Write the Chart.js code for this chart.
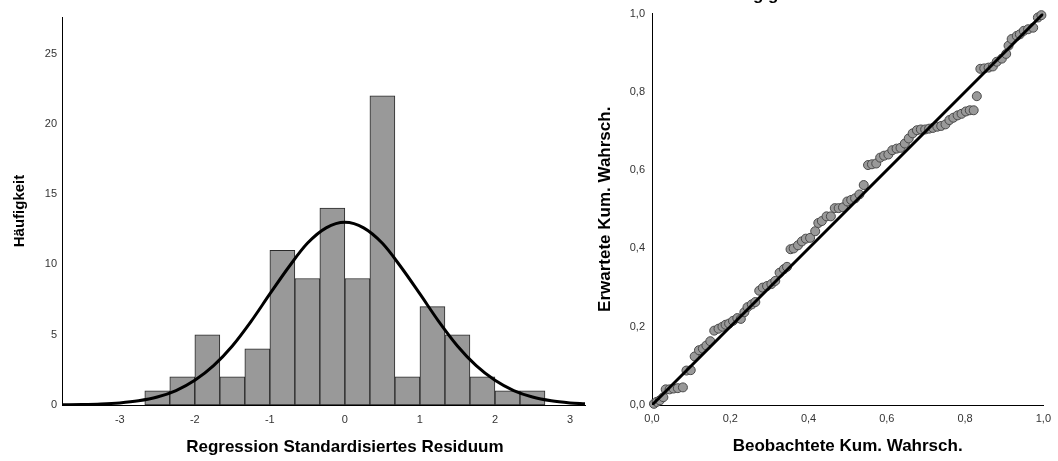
<!DOCTYPE html>
<html>
<head>
<meta charset="utf-8">
<script src="https://cdn.jsdelivr.net/npm/chart.js@4.4.0/dist/chart.umd.min.js"></script>
<style>
html, body { margin: 0; padding: 0; background: #fff; }
#wrap  { position: relative; width: 1058px; height: 461px; }
#left  { position: absolute; left: 0; top: 0; width: 590px; height: 461px; }
#right { position: absolute; left: 590px; top: 0; width: 468px; height: 461px; }
</style>
</head>
<body>
<div id="wrap">
    <div id="left"><canvas id="histChart"></canvas></div>
    <div id="right"><canvas id="ppChart"></canvas></div>
</div>
<script>
// Histogramm
let binCenters  = [-2.5, -2.167, -1.833, -1.5, -1.167, -0.833, -0.5, -0.167, 0.167, 0.5, 0.833, 1.167, 1.5, 1.833, 2.167, 2.5];
let binCounts   = [1, 2, 5, 2, 4, 11, 9, 14, 9, 22, 2, 7, 5, 2, 1, 1];
let curveX      = [-3.77, -3.5, -3.25, -3, -2.75, -2.5, -2.25, -2, -1.75, -1.5, -1.25, -1, -0.75, -0.5, -0.25, 0, 0.25, 0.5, 0.75, 1, 1.25, 1.5, 1.75, 2, 2.25, 2.5, 2.75, 3, 3.2];
let curveY      = [0.01, 0.03, 0.07, 0.15, 0.3, 0.57, 1.03, 1.76, 2.8, 4.2, 5.95, 7.9, 9.8, 11.5, 12.6, 13.0, 12.6, 11.5, 9.8, 7.9, 5.95, 4.2, 2.8, 1.76, 1.03, 0.57, 0.3, 0.15, 0.08];
let histXTicks  = [-3, -2, -1, 0, 1, 2, 3];
let histYTicks  = [0, 5, 10, 15, 20, 25];

// P-P-Diagramm
let ppObserved  = [
    0.005, 0.012, 0.020, 0.029,
    0.035, 0.045, 0.055, 0.066, 0.079,
    0.088, 0.099,
    0.109, 0.120, 0.130, 0.139, 0.149,
    0.159, 0.170, 0.180, 0.188, 0.197, 0.207, 0.218, 0.227,
    0.236, 0.244, 0.255, 0.264,
    0.274, 0.283, 0.294, 0.305, 0.315, 0.326, 0.337, 0.345,
    0.354, 0.362, 0.373, 0.383, 0.393, 0.404, 0.417, 0.425, 0.434, 0.446, 0.457,
    0.467, 0.477, 0.488, 0.499, 0.509, 0.519, 0.530, 0.541,
    0.552, 0.562, 0.573, 0.583, 0.593, 0.604, 0.614, 0.625, 0.635, 0.646, 0.656, 0.666, 0.677, 0.687,
    0.698, 0.708, 0.718, 0.729, 0.739, 0.750, 0.760, 0.770, 0.781, 0.791, 0.802, 0.812, 0.822,
    0.830,
    0.839, 0.849, 0.860, 0.871, 0.881, 0.894, 0.905,
    0.911, 0.919, 0.932, 0.940, 0.950, 0.961, 0.974, 0.986, 0.995
];
let ppExpected  = [
    0.003, 0.008, 0.012, 0.020,
    0.040, 0.040, 0.042, 0.043, 0.045,
    0.088, 0.089,
    0.124, 0.140, 0.144, 0.152, 0.163,
    0.190, 0.195, 0.200, 0.205, 0.208, 0.215, 0.222, 0.220,
    0.237, 0.250, 0.257, 0.263,
    0.292, 0.300, 0.304, 0.309, 0.317, 0.338, 0.347, 0.353,
    0.398, 0.400, 0.408, 0.418, 0.425, 0.427, 0.444, 0.465, 0.470, 0.482, 0.482,
    0.503, 0.503, 0.505, 0.520, 0.524, 0.528, 0.538, 0.562,
    0.613, 0.615, 0.617, 0.632, 0.637, 0.640, 0.651, 0.655, 0.657, 0.668, 0.681, 0.694, 0.702, 0.704,
    0.704, 0.706, 0.708, 0.711, 0.713, 0.717, 0.728, 0.734, 0.740, 0.744, 0.750, 0.753, 0.753,
    0.789,
    0.859, 0.860, 0.862, 0.865, 0.877, 0.885, 0.897,
    0.918, 0.935, 0.943, 0.947, 0.956, 0.960, 0.964, 0.990, 0.996
];
let refLineX    = [0, 1];
let refLineY    = [0, 1];
let ppTicks     = [0, 0.2, 0.4, 0.6, 0.8, 1.0];

let fontFamily  = '"Liberation Sans", Arial, sans-serif';
let histXTitle  = "Regression Standardisiertes Residuum";
let subtitle    = "Abhängige Variable";

function setTicks(list) {
    return function (scale) {
        scale.ticks = list.map(v => ({ value: v }));
    };
}
function comma(v) {
    return Number(v).toFixed(1).replace(".", ",");
}

// x-Titel links: unter dem Wert 0 zentriert, wie im Original
const histTitlePlugin = {
    id: "histTitle",
    afterDraw(chart) {
        const ctx = chart.ctx;
        ctx.save();
        ctx.font = "bold 17px " + fontFamily;
        ctx.fillStyle = "#000";
        ctx.textAlign = "center";
        ctx.textBaseline = "middle";
        ctx.fillText(histXTitle, chart.scales.x.getPixelForValue(0), 447);
        ctx.restore();
    }
};

// abgeschnittener Untertitel oben (nur die Unterlaengen sichtbar)
const subtitlePlugin = {
    id: "subtitle",
    afterDraw(chart) {
        const ctx = chart.ctx;
        ctx.save();
        ctx.font = "bold 17px " + fontFamily;
        ctx.fillStyle = "#000";
        ctx.textBaseline = "alphabetic";
        const w = ctx.measureText("Abhän").width;
        ctx.fillText(subtitle, 163 - w, -0.5);
        ctx.restore();
    }
};

const histChart = new Chart(document.getElementById("histChart").getContext("2d"), {
    data: {
        datasets: [{
            type: "line",
            data: curveX.map((x, i) => ({ x: x, y: curveY[i] })),
            borderColor: "#000",
            borderWidth: 3,
            pointRadius: 0,
            cubicInterpolationMode: "monotone",
            order: 0
        }, {
            type: "bar",
            data: binCenters.map((x, i) => ({ x: x, y: binCounts[i] })),
            backgroundColor: "#999999",
            borderColor: "#2a2a2a",
            borderWidth: 1,
            borderSkipped: false,
            barPercentage: 1,
            categoryPercentage: 1,
            order: 1
        }]
    },
    options: {
        responsive: true,
        maintainAspectRatio: false,
        animation: false,
        layout: { padding: { top: 17, right: 5, left: 0, bottom: 0 } },
        plugins: { legend: { display: false }, tooltip: { enabled: false } },
        scales: {
            x: {
                type: "linear",
                min: -3.77,
                max: 3.2,
                offset: false,
                afterBuildTicks: setTicks(histXTicks),
                afterFit: s => { s.height = 56; },
                grid: { display: false, drawTicks: false, offset: false },
                border: { display: true, color: "#000", width: 1 },
                ticks: { padding: 8, color: "#333", font: { family: fontFamily, size: 11 } }
            },
            y: {
                min: 0,
                max: 27.6,
                afterBuildTicks: setTicks(histYTicks),
                afterFit: s => { s.width = 62; },
                grid: { display: false, drawTicks: false },
                border: { display: true, color: "#000", width: 1 },
                ticks: { padding: 5, color: "#333", font: { family: fontFamily, size: 11 } },
                title: {
                    display: true,
                    text: "Häufigkeit",
                    color: "#000",
                    padding: { top: 11, bottom: 0 },
                    font: { family: fontFamily, size: 15, weight: "bold" }
                }
            }
        }
    },
    plugins: [histTitlePlugin]
});

const ppChart = new Chart(document.getElementById("ppChart").getContext("2d"), {
    data: {
        datasets: [{
            type: "line",
            data: refLineX.map((x, i) => ({ x: x, y: refLineY[i] })),
            borderColor: "#000",
            borderWidth: 3,
            pointRadius: 0,
            order: 0
        }, {
            type: "scatter",
            data: ppObserved.map((x, i) => ({ x: x, y: ppExpected[i] })),
            backgroundColor: "#999999",
            borderColor: "#4a4a4a",
            borderWidth: 1,
            pointRadius: 4.5,
            clip: false,
            order: 1
        }]
    },
    options: {
        responsive: true,
        maintainAspectRatio: false,
        animation: false,
        layout: { padding: { top: 11, right: 11, left: 0, bottom: 0 } },
        plugins: { legend: { display: false }, tooltip: { enabled: false } },
        scales: {
            x: {
                type: "linear",
                min: 0,
                max: 1,
                afterBuildTicks: setTicks(ppTicks),
                afterFit: s => { s.height = 56; },
                grid: { display: false, drawTicks: false },
                border: { display: true, color: "#000", width: 1 },
                ticks: { padding: 7, color: "#333", callback: comma, font: { family: fontFamily, size: 11 } },
                title: {
                    display: true,
                    text: "Beobachtete Kum. Wahrsch.",
                    color: "#000",
                    padding: { top: 0, bottom: 4 },
                    font: { family: fontFamily, size: 17, weight: "bold" }
                }
            },
            y: {
                type: "linear",
                min: 0,
                max: 1,
                afterBuildTicks: setTicks(ppTicks),
                afterFit: s => { s.width = 62; },
                grid: { display: false, drawTicks: false },
                border: { display: true, color: "#000", width: 1 },
                ticks: { padding: 7, color: "#333", callback: comma, font: { family: fontFamily, size: 11 } },
                title: {
                    display: true,
                    text: "Erwartete Kum. Wahrsch.",
                    color: "#000",
                    padding: { top: 5, bottom: 0 },
                    font: { family: fontFamily, size: 17, weight: "bold" }
                }
            }
        }
    },
    plugins: [subtitlePlugin]
});
</script>
</body>
</html>
